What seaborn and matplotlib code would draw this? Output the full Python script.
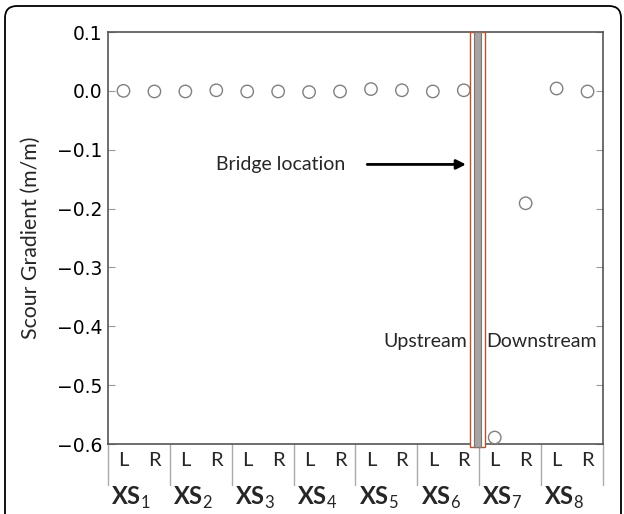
import numpy as np
import pandas as pd
import seaborn as sns
import matplotlib
matplotlib.use("Agg")
import matplotlib.pyplot as plt
from matplotlib.patches import Rectangle, FancyBboxPatch
import matplotlib.transforms as mtransforms

# ---- data ----
sections = ["1", "2", "3", "4", "5", "6", "7", "8"]
sides = ["L", "R"]
gradient_L = [0.000, -0.001, -0.001, -0.002, 0.003, -0.001, -0.589, 0.004]
gradient_R = [-0.001, 0.001, -0.001, -0.001, 0.001, 0.001, -0.191, -0.001]
y_ticks = [0.1, 0.0, -0.1, -0.2, -0.3, -0.4, -0.5, -0.6]

rows = []
for i, s in enumerate(sections):
    rows.append({"section": s, "side": "L", "gradient": gradient_L[i]})
    rows.append({"section": s, "side": "R", "gradient": gradient_R[i]})
df = pd.DataFrame(rows)
df["pos"] = np.arange(len(df))

sns.set_style("white")
plt.rcParams["font.family"] = ["DejaVu Sans"]
plt.rcParams["mathtext.fontset"] = "custom"
plt.rcParams["mathtext.rm"] = "Lato"
plt.rcParams["mathtext.bf"] = "Lato:bold"

W, H = 624, 514
fig = plt.figure(figsize=(W / 100, H / 100), dpi=100)
ax = fig.add_axes([108 / W, 1 - 444 / H, (603 - 108) / W, (444 - 32) / H])

sns.scatterplot(data=df, x="pos", y="gradient", ax=ax, marker="o", s=80,
                facecolor="none", edgecolor="#808080", linewidth=1.0,
                zorder=3, legend=False)

ax.set_xlim(-0.5, len(df) - 0.5)
ax.set_ylim(-0.6, 0.1)
ax.set_yticks(y_ticks)
ax.set_yticklabels([f"{t:.1f}".replace("-", "\u2212") for t in y_ticks], fontsize=13.5)
ax.tick_params(axis="y", direction="in", length=5, width=0.8, color="#999999",
               left=True, right=True, pad=4, labelcolor="black")
ax.set_xticks(df["pos"])
ax.set_xticklabels(df["side"], fontsize=14.5, family="Lato")
ax.tick_params(axis="x", length=0, pad=6)
ax.set_xlabel("")
ax.set_ylabel("Scour Gradient (m/m)", fontsize=15.3, family="Lato")
ax.yaxis.set_label_coords(-0.135, 0.5)
for sp in ax.spines.values():
    sp.set_color("#555555")
    sp.set_linewidth(1.2)

# group separators and section labels
trans = mtransforms.blended_transform_factory(ax.transData, ax.transAxes)
for k in range(len(sections) + 1):
    xb = 2 * k - 0.5
    ax.plot([xb, xb], [0, -0.1], transform=trans, color="#aaaaaa", lw=1,
            clip_on=False)
for k, s in enumerate(sections):
    ax.text(2 * k + 0.5 - 0.25, -0.131, r"$\mathbf{XS}_{\mathrm{%s}}$" % s,
            transform=trans, ha="center", va="center", fontsize=17)

# bridge
ax.add_patch(Rectangle((11.21, -0.605), 0.48, 0.705, facecolor="white",
                       edgecolor="#b5532a", lw=1.0, clip_on=False, zorder=4))
ax.add_patch(Rectangle((11.34, -0.605), 0.22, 0.705, facecolor="#a8a4a4",
                       edgecolor="#7a7676", lw=0.8, clip_on=False, zorder=5))

# annotations
ax.text(5.08, -0.125, "Bridge location", ha="center", va="center",
        fontsize=14, family="Lato")
ax.annotate("", xy=(11.16, -0.125), xytext=(7.79, -0.125),
            arrowprops=dict(arrowstyle="-|>", lw=2, color="black",
                            mutation_scale=14))
ax.text(11.1, -0.426, "Upstream", ha="right", va="center", fontsize=14,
        family="Lato")
ax.text(11.73, -0.426, "Downstream", ha="left", va="center", fontsize=14,
        family="Lato")

# rounded outer frame
frame = FancyBboxPatch((0.05, -1.0), 6.16, 6.08,
                       boxstyle="round,pad=0,rounding_size=0.12",
                       transform=fig.dpi_scale_trans, facecolor="none",
                       edgecolor="black", lw=1.3, clip_on=False)
fig.patches.append(frame)

fig.savefig("out.png", dpi=100)
